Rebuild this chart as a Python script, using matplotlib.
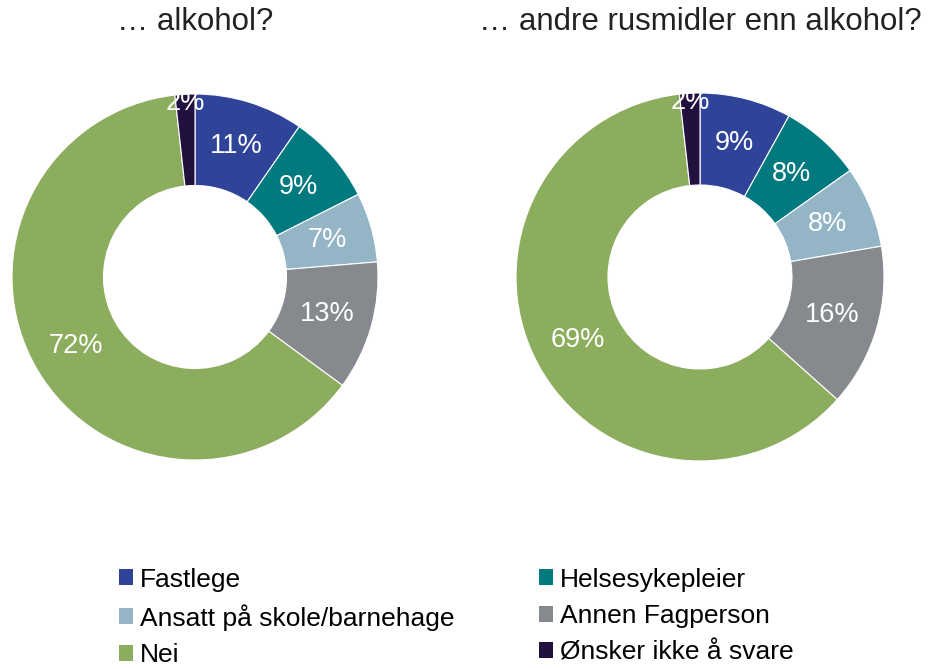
import matplotlib.pyplot as plt
import numpy as np
from matplotlib.patches import Patch

plt.rcParams["font.family"] = ["Liberation Sans", "DejaVu Sans"]

categories = ["Fastlege", "Helsesykepleier", "Ansatt på skole/barnehage",
              "Annen Fagperson", "Nei", "Ønsker ikke å svare"]
colors = ["#2F4499", "#007A7E", "#93B5C6", "#868A8E", "#8DAD5E", "#22103F"]
alkohol = [11, 9, 7, 13, 72, 2]
rusmidler = [9, 8, 8, 16, 69, 2]
titles = ["… alkohol?", "… andre rusmidler enn alkohol?"]

W, H = 933, 669
fig = plt.figure(figsize=(W / 100, H / 100), dpi=100)


def donut(cx, cy, r, values, title):
    ax = fig.add_axes([(cx - r) / W, (H - cy - r) / H, 2 * r / W, 2 * r / H])
    wedges, _ = ax.pie(values, colors=colors, startangle=90, counterclock=False,
                       radius=1, wedgeprops=dict(width=0.5, edgecolor="white", linewidth=0.8))
    for w, v in zip(wedges, values):
        ang = np.deg2rad((w.theta1 + w.theta2) / 2)
        d = 0.95 if v <= 3 else 0.75
        ax.text(d * np.cos(ang), d * np.sin(ang), f"{v}%", ha="center", va="center",
                color="white", fontsize=19.5)
    ax.set_xlim(-1, 1)
    ax.set_ylim(-1, 1)
    ax.set_aspect("equal")
    ax.axis("off")
    fig.text(cx / W, 1 - 22 / H, title, ha="center", va="center", fontsize=22.5, color="#222222")


donut(195, 277, 183, alkohol, titles[0])
donut(700, 277, 184, rusmidler, titles[1])

handles = [Patch(facecolor=c, edgecolor="none") for c in colors]
order = [0, 2, 4, 1, 3, 5]
fig.legend([handles[i] for i in order], [categories[i] for i in order],
           ncol=2, loc="upper left", bbox_to_anchor=(108 / W, 1 - 557 / H),
           frameon=False, fontsize=19, handlelength=0.55, handleheight=0.55,
           handletextpad=0.25, columnspacing=3.2, labelspacing=0.47, borderaxespad=0)

fig.savefig("out.png", dpi=100, facecolor="white")
